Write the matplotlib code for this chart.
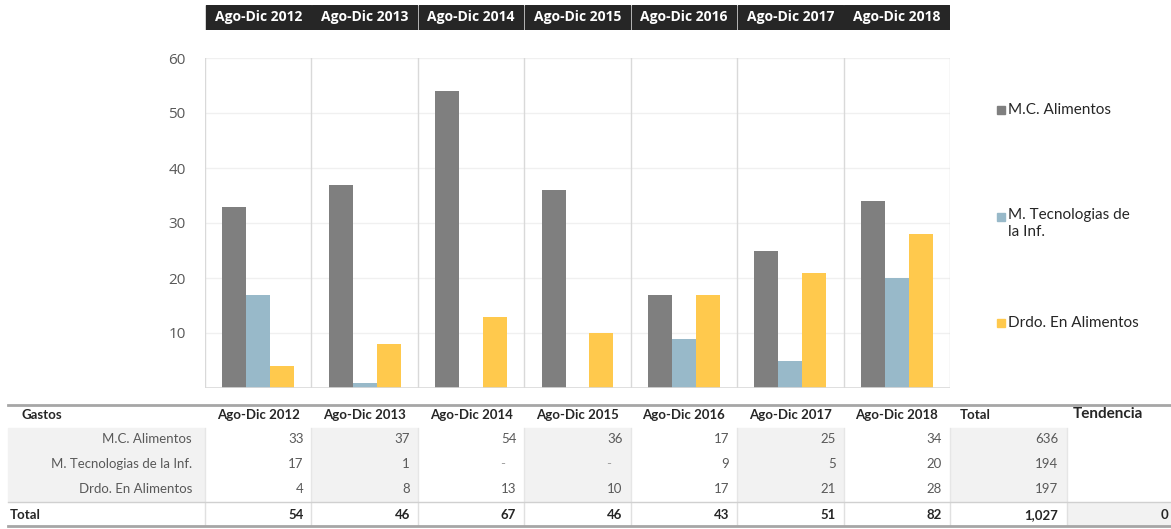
import numpy as np
import matplotlib
matplotlib.use("Agg")
import matplotlib.pyplot as plt
from matplotlib.patches import Rectangle

periods = ['Ago-Dic 2012', 'Ago-Dic 2013', 'Ago-Dic 2014', 'Ago-Dic 2015',
           'Ago-Dic 2016', 'Ago-Dic 2017', 'Ago-Dic 2018']
series_names = ['M.C. Alimentos', 'M. Tecnologias de la Inf.', 'Drdo. En Alimentos']
legend_labels = ['M.C. Alimentos', 'M. Tecnologias de\nla Inf.', 'Drdo. En Alimentos']
mc_alimentos = [33, 37, 54, 36, 17, 25, 34]
m_tecnologias = [17, 1, None, None, 9, 5, 20]
drdo_alimentos = [4, 8, 13, 10, 17, 21, 28]
row_totals = ['636', '194', '197']
col_totals = [54, 46, 67, 46, 43, 51, 82]
grand_total = '1,027'
tendencia_total = '0'

colors = ['#7f7f7f', '#98b9c9', '#ffc94d']
W, H = 1171, 529
plt.rcParams['font.family'] = ['Lato', 'DejaVu Sans']

fig = plt.figure(figsize=(W / 100, H / 100), dpi=100)

def fx(px):
    return px / W

def fy(py):
    return 1 - py / H

# bar chart
x0, x1, ytop, ybot = 205, 950, 58, 388
ax = fig.add_axes([fx(x0), fy(ybot), fx(x1 - x0), (ybot - ytop) / H])
series = [mc_alimentos, m_tecnologias, drdo_alimentos]
x = np.arange(len(periods))
bw = 0.225
for i, (vals, c) in enumerate(zip(series, colors)):
    v = [0 if s is None else s for s in vals]
    ax.bar(x + (i - 1) * bw, v, bw, color=c, zorder=3)
ax.set_xlim(-0.5, len(periods) - 0.5)
ax.set_ylim(0, 60)
ax.set_yticks([10, 20, 30, 40, 50, 60])
ax.tick_params(axis='y', length=0, labelsize=11, labelcolor='#595959', pad=14)
for t in ax.get_yticklabels():
    t.set_family(['Open Sans', 'DejaVu Sans'])
ax.set_xticks([])
for yv in range(10, 61, 10):
    ax.axhline(yv, color='#f0f0f0', lw=1, zorder=1)
for xv in np.arange(-0.5, len(periods), 1):
    ax.axvline(xv, color='#d9d9d9', lw=1, zorder=2)
ax.axhline(0, color='#d9d9d9', lw=1.2, zorder=4)
for s in ax.spines.values():
    s.set_visible(False)

# header boxes
hax = fig.add_axes([fx(x0), fy(30), fx(x1 - x0), 25 / H])
hax.set_xlim(-0.5, len(periods) - 0.5)
hax.set_ylim(0, 1)
hax.axis('off')
for i, p in enumerate(periods):
    hax.add_patch(Rectangle((i - 0.5 + 0.008, 0), 0.984, 1, color='#262626'))
    hax.text(i, 0.5, p, color='white', ha='center', va='center', fontsize=10,
             fontweight='bold', family=['Open Sans', 'DejaVu Sans'])

# legend
leg_y = [110, 217, 323]
for lab, c, yy in zip(legend_labels, colors, leg_y):
    fig.patches.append(Rectangle((fx(997), fy(yy + 4)), fx(8), 8 / H, color=c,
                                 transform=fig.transFigure))
    fig.text(fx(1008), fy(yy - 9) if '\n' in lab else fy(yy), lab, ha='left',
             va='top' if '\n' in lab else 'center',
             fontsize=11, color='#262626', linespacing=1.3)

# table
tax = fig.add_axes([0, 0, 1, fy(398)])
tax.set_xlim(0, W)
tax.set_ylim(H, 398)
tax.axis('off')
col_w = (x1 - x0) / len(periods)
edges = [x0 + i * col_w for i in range(len(periods) + 1)]
shade = '#f2f2f2'
r_top, r_bot = 428, 501
tax.add_patch(Rectangle((8, r_top), x0 - 8 - 1, r_bot - r_top, color=shade))
for i in range(len(periods)):
    if i % 2 == 1:
        tax.add_patch(Rectangle((edges[i] + 1, r_top), col_w - 2, r_bot - r_top, color=shade))
tax.add_patch(Rectangle((x1 + 1, r_top), 1067 - x1 - 2, r_bot - r_top, color=shade))
tax.add_patch(Rectangle((1068, 503), 1171 - 1068, 22, color=shade))
for ex in [x0] + edges[1:] + [1067]:
    tax.plot([ex, ex], [r_top, r_bot], color='#e6e6e6', lw=1)
    tax.plot([ex, ex], [503, 525], color='#e0e0e0', lw=1)
tax.plot([8, W], [405, 405], color='#a6a6a6', lw=2)
tax.plot([8, W], [502, 502], color='#d0d0d0', lw=1)
tax.plot([8, W], [526, 526], color='#a6a6a6', lw=2)

fs = 9.5
tax.text(22, 415, 'Gastos', fontsize=fs, fontweight='bold', color='#262626', va='center')
for i, p in enumerate(periods):
    tax.text(edges[i] + col_w / 2, 415, p, fontsize=fs, fontweight='bold',
             color='#262626', ha='center', va='center')
tax.text(960, 415, 'Total', fontsize=fs, fontweight='bold', color='#262626', va='center')
tax.text(1108, 414, 'Tendencia', fontsize=11, fontweight='bold', color='#262626',
         ha='center', va='center')
row_y = [439, 464, 489]
for r, (name, vals, tot) in enumerate(zip(series_names, series, row_totals)):
    tax.text(192, row_y[r], name, fontsize=fs, color='#595959', ha='right', va='center')
    for i, v in enumerate(vals):
        if v is None:
            tax.text(edges[i + 1] - 22, row_y[r], '-', fontsize=fs, color='#a0a0a0',
                     ha='center', va='center')
        else:
            tax.text(edges[i + 1] - 8, row_y[r], str(v), fontsize=fs, color='#595959',
                     ha='right', va='center')
    tax.text(1058, row_y[r], tot, fontsize=fs, color='#595959', ha='right', va='center')
tax.text(10, 515, 'Total', fontsize=fs, fontweight='bold', color='#262626', va='center')
for i, v in enumerate(col_totals):
    tax.text(edges[i + 1] - 8, 515, str(v), fontsize=fs, fontweight='bold',
             color='#262626', ha='right', va='center')
tax.text(1058, 515, grand_total, fontsize=fs, fontweight='bold', color='#262626',
         ha='right', va='center')
tax.text(1168, 515, tendencia_total, fontsize=fs, fontweight='bold', color='#262626',
         ha='right', va='center')

fig.savefig('out.png', dpi=100)
